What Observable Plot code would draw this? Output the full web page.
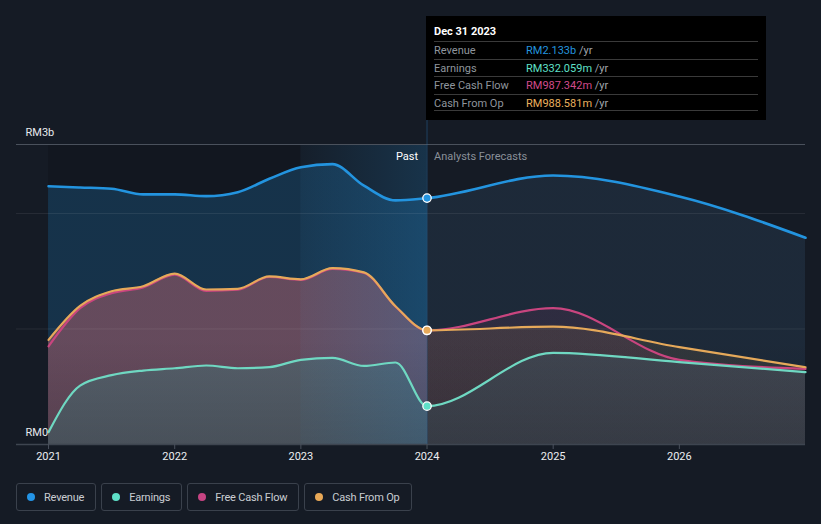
<!DOCTYPE html>
<html><head><meta charset="utf-8">
<script src="https://cdn.jsdelivr.net/npm/d3@7"></script>
<script src="https://cdn.jsdelivr.net/npm/@observablehq/plot@0.6"></script>
<style>
html,body{margin:0;padding:0;background:#151b25;font-family:Roboto,"Noto Sans",sans-serif;}
#wrap{position:relative;width:821px;height:524px;overflow:hidden;background:#151b25;}
#chart{position:absolute;left:0;top:0;}
#tip{position:absolute;left:426px;top:16px;width:340px;height:104px;background:#000;box-sizing:border-box;padding:7px 8px 0 8px;font-size:11px;}
#tip .t{color:#fff;font-weight:bold;height:18px;line-height:17px;}
#tip .r{height:17.5px;line-height:17px;border-top:1px solid #3a3a3a;display:flex;box-sizing:border-box;}
#tip .r:last-child{border-bottom:1px solid #3a3a3a;}
#tip .l{width:92px;color:#8f959d;}
#tip .u{color:#a0a5ac;white-space:pre;}
#legend{position:absolute;left:16px;top:483px;display:flex;gap:5px;}
#legend .it{height:28px;box-sizing:border-box;border:1px solid #3a414c;border-radius:3px;display:flex;align-items:center;padding:0 11px 0 10px;font-size:11px;letter-spacing:-0.2px;color:#c9cdd2;}
#legend .dot{width:8px;height:8px;border-radius:50%;margin-right:9px;}
</style></head><body>
<svg width="0" height="0" style="position:absolute">
<defs>
<linearGradient id="revFill" gradientUnits="userSpaceOnUse" x1="0" x2="821" y1="0" y2="0">
<stop offset="0.5195" stop-color="#2394df" stop-opacity="0.22"/>
<stop offset="0.5195" stop-color="#4a7ba8" stop-opacity="0.15"/>
</linearGradient>
<linearGradient id="fcfFill" gradientUnits="userSpaceOnUse" x1="0" x2="821" y1="0" y2="0">
<stop offset="0.5195" stop-color="#c64483" stop-opacity="0"/>
<stop offset="0.5195" stop-color="#c64483" stop-opacity="0.1"/>
</linearGradient>
<linearGradient id="cfoFill" gradientUnits="userSpaceOnUse" x1="0" x2="821" y1="0" y2="0">
<stop offset="0.5195" stop-color="#dc6f78" stop-opacity="0.4"/>
<stop offset="0.5195" stop-color="#e8a857" stop-opacity="0.1"/>
</linearGradient>
<linearGradient id="earnFill" gradientUnits="userSpaceOnUse" x1="0" x2="821" y1="0" y2="0">
<stop offset="0.5195" stop-color="#4a6c72" stop-opacity="0.6"/>
<stop offset="0.5195" stop-color="#3f525e" stop-opacity="0.5"/>
</linearGradient>
<linearGradient id="hiFill" x1="0" x2="1" y1="0" y2="0">
<stop offset="0" stop-color="#2394df" stop-opacity="0.03"/>
<stop offset="1" stop-color="#2394df" stop-opacity="0.2"/>
</linearGradient>
<linearGradient id="shade" gradientUnits="userSpaceOnUse" x1="0" x2="0" y1="340" y2="444">
<stop offset="0" stop-color="#000" stop-opacity="0"/>
<stop offset="1" stop-color="#000" stop-opacity="0.15"/>
</linearGradient>
</defs>
</svg>
<div id="wrap"><div id="chart"></div><div id="tip"></div><div id="legend"></div></div>
<script>
// ---- data (values in RM billions) ----
const pastDates = [2021, 2021.25, 2021.5, 2021.75, 2022, 2022.25, 2022.5, 2022.75, 2023, 2023.25, 2023.5, 2023.75, 2024];
const forecastDates = [2024, 2025, 2026, 2027];

const revenuePast = [2.236, 2.225, 2.214, 2.165, 2.165, 2.15, 2.184, 2.30, 2.40, 2.427, 2.24, 2.113, 2.133];
const revenueForecast = [2.133, 2.329, 2.147, 1.79];

const earningsPast = [0.107, 0.51, 0.60, 0.64, 0.66, 0.684, 0.66, 0.67, 0.733, 0.75, 0.68, 0.71, 0.332];
const earningsForecast = [0.332, 0.794, 0.713, 0.626];

const fcfPast = [0.85, 1.18, 1.31, 1.36, 1.47, 1.33, 1.34, 1.45, 1.425, 1.52, 1.485, 1.195, 0.987];
const fcfForecast = [0.987, 1.18, 0.733, 0.655];

const cfoPast = [0.906, 1.20, 1.327, 1.37, 1.48, 1.342, 1.348, 1.455, 1.43, 1.527, 1.49, 1.197, 0.9886];
const cfoForecast = [0.9886, 1.02, 0.843, 0.669];

const seriesNames = ["Revenue", "Earnings", "Free Cash Flow", "Cash From Op"];
const seriesColors = ["#2394df", "#6fd8c2", "#c9457f", "#e6a95a"];
const legendDotColors = ["#2394e6", "#5ee0c8", "#c64483", "#e8a857"];
const tooltipDate = "Dec 31 2023";
const tooltipValues = ["RM2.133b", "RM332.059m", "RM987.342m", "RM988.581m"];
const tooltipValueColors = ["#2394df", "#5fe0c8", "#d04a8a", "#eab05e"];

const xTicks = [2021, 2022, 2023, 2024, 2025, 2026];
const yLabelValues = [0, 2.597];
const yLabels = ["RM0", "RM3b"];
const gridValues = [1, 2];
const xDomain = [2020.746, 2027];
const yDomain = [0, 2.597];
const pastStart = 2021, highlightStart = 2023, nowDate = 2024;

// ---- build rows ----
function build(name, past, fc) {
  return past.map((v, i) => ({date: pastDates[i], value: v, series: name}))
    .concat(fc.slice(1).map((v, i) => ({date: forecastDates[i + 1], value: v, series: name})));
}
const rev = build(seriesNames[0], revenuePast, revenueForecast);
const earn = build(seriesNames[1], earningsPast, earningsForecast);
const fcf = build(seriesNames[2], fcfPast, fcfForecast);
const cfo = build(seriesNames[3], cfoPast, cfoForecast);
const nowPts = [
  {date: nowDate, value: fcfPast[fcfPast.length - 1], c: seriesColors[2]},
  {date: nowDate, value: revenuePast[revenuePast.length - 1], c: seriesColors[0]},
  {date: nowDate, value: cfoPast[cfoPast.length - 1], c: seriesColors[3]},
  {date: nowDate, value: earningsPast[earningsPast.length - 1], c: "#5fe0c8"}
];
const curve = "monotone-x";

const chart = Plot.plot({
  width: 821, height: 470,
  marginLeft: 16, marginRight: 16, marginTop: 144, marginBottom: 26,
  style: {background: "transparent", fontFamily: "Roboto, sans-serif", fontSize: "11px", overflow: "visible"},
  x: {domain: xDomain, axis: null},
  y: {domain: yDomain, axis: null},
  marks: [
    Plot.rect([{x1: pastStart, x2: highlightStart}], {x1: "x1", x2: "x2", y1: yDomain[0], y2: yDomain[1], fill: "#000", fillOpacity: 0.12}),
    Plot.areaY(rev, {x: "date", y: "value", fill: "url(#revFill)", curve}),
    Plot.areaY(fcf, {x: "date", y: "value", fill: "url(#fcfFill)", curve}),
    Plot.areaY(cfo, {x: "date", y: "value", fill: "url(#cfoFill)", curve}),
    Plot.areaY(earn, {x: "date", y: "value", fill: "url(#earnFill)", curve}),
    Plot.rect([{x1: highlightStart, x2: nowDate}], {x1: "x1", x2: "x2", y1: yDomain[0], y2: yDomain[1], fill: "url(#hiFill)"}),
    Plot.rect([{x1: pastStart, x2: xDomain[1]}], {x1: "x1", x2: "x2", y1: yDomain[0], y2: yDomain[1], fill: "url(#shade)"}),
    Plot.ruleY(gridValues, {stroke: "#ffffff", strokeOpacity: 0.08}),
    Plot.ruleY([yDomain[1]], {stroke: "#4a515c", strokeWidth: 1}),
    Plot.ruleY([0], {stroke: "#3e4550", strokeWidth: 1.5}),
    Plot.ruleX([nowDate], {y1: 0, y2: 2.805, stroke: "#2a6ea8", strokeOpacity: 0.45}),
    Plot.lineY(fcf, {x: "date", y: "value", stroke: seriesColors[2], strokeWidth: 2.2, curve}),
    Plot.lineY(cfo, {x: "date", y: "value", stroke: seriesColors[3], strokeWidth: 2.2, curve}),
    Plot.lineY(earn, {x: "date", y: "value", stroke: seriesColors[1], strokeWidth: 2.2, curve}),
    Plot.lineY(rev, {x: "date", y: "value", stroke: seriesColors[0], strokeWidth: 2.6, curve}),
    Plot.dot(nowPts, {x: "date", y: "value", r: 4.2, fill: "c", stroke: "#ffffff", strokeWidth: 1.3}),
    Plot.axisX({ticks: xTicks, tickFormat: d => String(d), tickSize: 5, tickPadding: 3, stroke: "#4a515c", fill: "#eceef1", fontSize: 11, label: null}),
    Plot.text(yLabelValues.map((v, i) => ({v, t: yLabels[i]})), {x: xDomain[0], y: "v", text: "t", dx: 9, dy: -12, textAnchor: "start", fill: "#e8eaed", fontSize: 11}),
    Plot.text(["Past"], {x: nowDate, y: yDomain[1], text: d => d, dx: -9, dy: 12, textAnchor: "end", fill: "#ffffff", fontSize: 11}),
    Plot.text(["Analysts Forecasts"], {x: nowDate, y: yDomain[1], text: d => d, dx: 7, dy: 12, textAnchor: "start", fill: "#8a9099", fontSize: 11})
  ]
});
document.getElementById("chart").appendChild(chart);

// tooltip
const tip = document.getElementById("tip");
let html = `<div class="t">${tooltipDate}</div>`;
seriesNames.forEach((n, i) => {
  html += `<div class="r"><span class="l">${n}</span><span style="color:${tooltipValueColors[i]}">${tooltipValues[i]}</span><span class="u"> /yr</span></div>`;
});
tip.innerHTML = html;

// legend
const legend = document.getElementById("legend");
seriesNames.forEach((n, i) => {
  const it = document.createElement("div");
  it.className = "it";
  it.innerHTML = `<span class="dot" style="background:${legendDotColors[i]}"></span><span>${n}</span>`;
  legend.appendChild(it);
});
</script>
</body></html>
